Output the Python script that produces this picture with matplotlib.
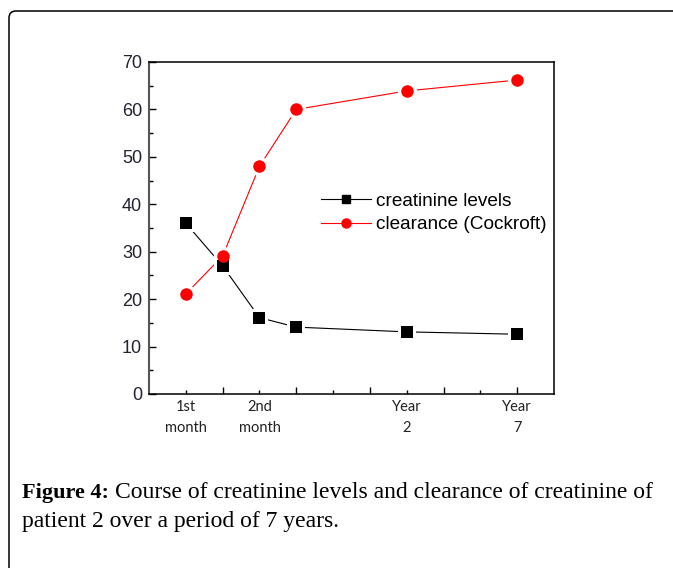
import numpy as np
import matplotlib
matplotlib.use('Agg')
import matplotlib.pyplot as plt
from matplotlib.lines import Line2D
from matplotlib.patches import FancyBboxPatch
from matplotlib.transforms import IdentityTransform
from matplotlib.ticker import MultipleLocator


# x positions on the time axis
time_pos = [1, 2, 3, 4, 7, 10]
creatinine = [36.0, 27.0, 16.1, 14.1, 13.1, 12.6]
clearance = [21.1, 29.1, 48.0, 60.0, 63.9, 66.2]

series_labels = ['creatinine levels', 'clearance (Cockroft)']
major_ticks = [2, 4, 6, 8, 10]
major_labels = ['', '', '', '', 'Year\n7']
minor_ticks = [1, 3, 5, 7, 9]
minor_labels = ['1st\nmonth', '2nd\nmonth', '', 'Year\n2', '']

caption_bold = 'Figure 4:'
caption_line1 = 'Course of creatinine levels and clearance of creatinine of'
caption_line2 = 'patient 2 over a period of 7 years.'

W, H = 673, 568


def draw_series(ax, x, y, color, marker, ms, lw):
    ax.plot(x, y, '-', color=color, lw=lw, zorder=2)
    # white halo gives the gap between line and marker
    ax.plot(x, y, ls='none', marker=marker, ms=ms + 5, color='white',
            mec='white', mew=0, zorder=3)
    ax.plot(x, y, ls='none', marker=marker, ms=ms, color=color,
            mec=color, mew=0, zorder=4)


def main():
    fig = plt.figure(figsize=(W / 100.0, H / 100.0), dpi=100)
    ax = fig.add_axes([149.0 / W, 1 - 394.0 / H, 405.0 / W, 332.0 / H])

    draw_series(ax, time_pos, creatinine, 'black', 's', 8.0, 0.8)
    draw_series(ax, time_pos, clearance, '#ff0000', 'o', 9.0, 0.8)

    ax.set_xlim(0, 11)
    ax.set_ylim(0, 70)
    ax.yaxis.set_major_locator(MultipleLocator(10))
    ax.yaxis.set_minor_locator(MultipleLocator(5))
    ax.set_xticks(major_ticks)
    ax.set_xticklabels(major_labels)
    ax.set_xticks(minor_ticks, minor=True)
    ax.set_xticklabels(minor_labels, minor=True)

    for lab in ax.get_xticklabels(which='both'):
        lab.set_family('Lato')
        lab.set_fontsize(10.5)
        lab.set_linespacing(1.7)
        lab.set_color('#222222')
    for lab in ax.get_yticklabels():
        lab.set_family('Liberation Sans')
        lab.set_fontsize(13)
        lab.set_color('#222233')

    ax.tick_params(axis='both', which='both', direction='in')
    ax.tick_params(axis='y', which='major', length=5, width=1, pad=5)
    ax.tick_params(axis='y', which='minor', length=3, width=1)
    ax.tick_params(axis='x', which='major', length=5, width=1, pad=4)
    ax.tick_params(axis='x', which='minor', length=3, width=1, pad=4)
    for side in ['top', 'right', 'bottom']:
        ax.spines[side].set_linewidth(1.1)
        ax.spines[side].set_color('black')
    ax.spines['left'].set_linewidth(1.5)
    ax.spines['left'].set_color('#555555')

    handles = [
        Line2D([], [], color='black', lw=0.8, marker='s', ms=6),
        Line2D([], [], color='#ff0000', lw=0.8, marker='o', ms=6.5),
    ]
    ax.legend(handles, series_labels, loc='upper left',
              bbox_to_anchor=(0.425, 0.607), frameon=False,
              borderpad=0, borderaxespad=0, handlelength=2.6,
              handletextpad=0.3, labelspacing=0.33,
              prop={'family': 'Liberation Sans', 'size': 13.7})

    # outer rounded frame, partly running off the picture
    frame = FancyBboxPatch((9, -30), 720, H - 11 + 30,
                           boxstyle='round,pad=0,rounding_size=7',
                           transform=IdentityTransform(), fill=False,
                           lw=1.1, ec='black', zorder=10)
    fig.patches.append(frame)

    y1 = 1 - 493.0 / H
    y2 = 1 - 522.0 / H
    cap_font = 'Liberation Serif'
    t = fig.text(22.0 / W, y1, caption_bold, fontweight='bold',
                 family=cap_font, size=16, va='center')
    fig.canvas.draw()
    bb = t.get_window_extent()
    fig.text((bb.x1 + 6) / W, y1, caption_line1, family=cap_font,
             size=17, va='center')
    fig.text(22.0 / W, y2, caption_line2, family=cap_font,
             size=17, va='center')

    fig.savefig('out.png', dpi=100)
    plt.close(fig)


if __name__ == '__main__':
    main()
